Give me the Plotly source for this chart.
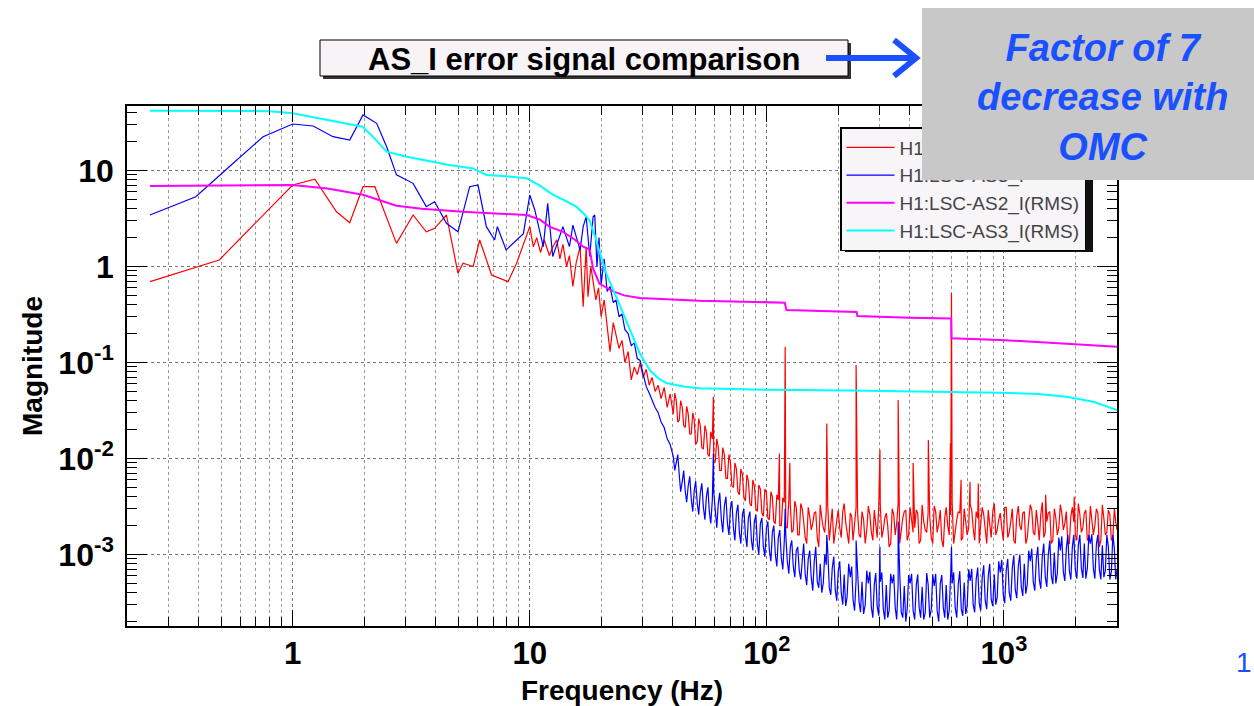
import plotly.graph_objects as go

# ---------------- data ----------------
# Low-frequency part of the two spectra (Hz, magnitude)
red_lf_f = [0.25, 0.49, 1.0, 1.24, 1.53, 1.74, 1.98, 2.22, 2.74, 3.22,
            3.66, 3.97, 4.45, 4.98, 5.23, 5.77, 6.15, 6.9, 8.1, 8.8,
            10.0, 10.35, 10.7, 11.1, 11.5, 12.1, 12.5, 13.0, 13.4, 13.8,
            14.3, 14.7, 15.2, 15.7, 16.3, 16.8, 17.3, 17.6, 18.1, 18.5,
            19.0, 19.5]
red_lf_m = [0.695, 1.17, 7.06, 8.1, 3.72, 2.86, 6.78, 6.78, 1.74, 3.44,
            2.3, 2.5, 3.44, 0.85, 1.08, 1.0, 1.89, 0.815, 0.695, 1.08,
            2.6, 1.6, 2.0, 1.4, 1.9, 1.3, 1.6, 1.9, 1.2, 1.7,
            1.0, 1.3, 0.62, 1.1, 1.61, 0.38, 1.61, 0.485, 1.0, 0.72,
            0.45, 0.6]

blue_lf_f = [0.25, 0.39, 0.54, 0.75, 1.0, 1.22, 1.48, 1.74, 1.98, 2.26,
             2.49, 2.74, 3.22, 3.66, 3.97, 4.45, 4.98, 5.58, 6.05, 6.56,
             7.11, 7.3, 7.95, 9.4, 10.0, 10.5, 11.4, 11.9, 12.5, 13.8,
             14.7, 15.2, 16.3, 16.8, 17.3, 17.9, 18.5, 18.8, 19.2, 19.6]
blue_lf_m = [3.44, 5.33, 10.96, 22.5, 30.5, 29.1, 22.5, 20.8, 37.9, 31,
             17.7, 9.0, 7.35, 4.2, 4.73, 2.82, 2.3, 6.78, 7.06, 2.6,
             1.89, 2.6, 1.49, 2.2, 5.56, 3.88, 1.61, 4.55, 1.27, 2.6,
             1.61, 2.7, 1.49, 2.6, 3.3, 1.27, 3.3, 3.44, 1.0, 2.0]

# High-frequency part, shared frequency list (Hz)
hf_f = [20, 20.6, 21.2, 21.8, 22.5, 23.1, 23.8, 24.5, 25.2, 26,
        26.8, 27.6, 28.4, 29.2, 30.1, 31, 31.9, 32.8, 33.8, 34.8,
        35.8, 36.9, 38, 39.1, 40.3, 41.5, 42.7, 44, 45.3, 46.6,
        48, 49.4, 50.9, 52.4, 54, 55.6, 57.2, 58.9, 60.6, 62.4,
        64.3, 66.2, 68.2, 70.2, 72.3, 74.4, 76.6, 78.9, 81.2, 83.6,
        86.1, 88.6, 91.2, 93.9, 96.7, 99.6, 102.5, 105.5, 108.6, 111.8,
        115.1, 118.5, 122, 125.6, 129.3, 133.1, 137, 141, 145.2, 149.5,
        153.9, 158.5, 163.2, 168, 173, 178.1, 183.4, 188.8, 194.4, 200,
        206, 212, 218, 225, 231, 238, 245, 252, 260, 268,
        276, 284, 292, 301, 310, 319, 328, 338, 348, 358,
        369, 380, 391, 402, 414, 427, 439, 452, 466, 479,
        494, 508, 523, 539, 555, 571, 588, 605, 623, 642,
        661, 680, 700, 721, 742, 764, 787, 810, 834, 859,
        884, 911, 937, 965, 994, 1023, 1053, 1085, 1117, 1150,
        1184, 1219, 1255, 1292, 1330, 1370, 1410, 1452, 1495, 1539,
        1585, 1632, 1680, 1730, 1781, 1834, 1888, 1944, 2001, 2061,
        2122, 2184, 2249, 2316, 2384, 2455, 2527, 2602, 2679, 2758,
        2840, 2924, 3000]

red_hf_m = [0.30, 0.45, 0.22, 0.13, 0.26, 0.20, 0.14, 0.17, 0.10, 0.13,
            0.066, 0.09, 0.075, 0.098, 0.07, 0.085, 0.058, 0.07, 0.05, 0.058,
            0.042, 0.055, 0.034, 0.047, 0.029, 0.04, 0.025, 0.034, 0.021, 0.029,
            0.018, 0.025, 0.015, 0.022, 0.0125, 0.019, 0.0105, 0.016, 0.0092, 0.013,
            0.0075, 0.011, 0.0062, 0.0092, 0.005, 0.0078, 0.0042, 0.0068, 0.0036, 0.0058,
            0.0032, 0.0052, 0.0028, 0.0048, 0.0025, 0.0044, 0.0023, 0.004, 0.0021, 0.0037,
            0.002, 0.0035, 0.0019, 0.0033, 0.0018, 0.0031, 0.0016, 0.003, 0.0015, 0.0031,
            0.0018, 0.0027, 0.0015, 0.0033, 0.0019, 0.0028, 0.0014, 0.003, 0.0017, 0.0029,
            0.0015, 0.0034, 0.0018, 0.0027, 0.0014, 0.0031, 0.0016, 0.0028, 0.0013, 0.0032,
            0.0017, 0.0029, 0.0015, 0.0033, 0.0018, 0.0027, 0.0012, 0.003, 0.0016, 0.0034,
            0.0018, 0.0028, 0.0014, 0.0031, 0.0017, 0.0029, 0.0013, 0.0033, 0.0018, 0.0027,
            0.0015, 0.0032, 0.0017, 0.0029, 0.0012, 0.0031, 0.0016, 0.0035, 0.0018, 0.0028,
            0.0014, 0.003, 0.0016, 0.0033, 0.0019, 0.0028, 0.0013, 0.0031, 0.0017, 0.0029,
            0.0015, 0.0034, 0.0018, 0.0027, 0.0014, 0.0031, 0.0017, 0.003, 0.0013, 0.0032,
            0.0018, 0.0028, 0.0015, 0.0033, 0.0017, 0.0029, 0.0014, 0.0035, 0.0017, 0.0027,
            0.0013, 0.003, 0.0016, 0.0033, 0.0018, 0.0028, 0.0013, 0.0031, 0.0016, 0.0034,
            0.0017, 0.0027, 0.0014, 0.0032, 0.0016, 0.003, 0.0012, 0.0033, 0.0016, 0.0029,
            0.0014, 0.003, 0.0018]

blue_hf_m = [0.65, 1.2, 0.55, 0.62, 0.42, 0.45, 0.3, 0.32, 0.22, 0.2,
             0.15, 0.16, 0.11, 0.105, 0.075, 0.056, 0.048, 0.04, 0.034, 0.03,
             0.024, 0.021, 0.016, 0.014, 0.0105, 0.009, 0.0068, 0.0058, 0.0045, 0.0052,
             0.0038, 0.0046, 0.0034, 0.0044, 0.0031, 0.004, 0.0028, 0.0037, 0.0026, 0.0034,
             0.0023, 0.0032, 0.0021, 0.003, 0.0019, 0.0027, 0.0017, 0.0026, 0.0016, 0.0024,
             0.0014, 0.0022, 0.0013, 0.0021, 0.0012, 0.0019, 0.0011, 0.0017, 0.001, 0.0015,
             0.00092, 0.0014, 0.00085, 0.0012, 0.00075, 0.0011, 0.00068, 0.00095, 0.00062, 0.0009,
             0.00058, 0.00085, 0.00052, 0.0008, 0.0005, 0.00078, 0.00045, 0.00072, 0.00043, 0.00066,
             0.0004, 0.00062, 0.00036, 0.00058, 0.00034, 0.00055, 0.00032, 0.00052, 0.0003, 0.0005,
             0.00028, 0.00049, 0.00029, 0.00052, 0.00027, 0.00048, 0.00026, 0.0005, 0.00028, 0.00049,
             0.00025, 0.00047, 0.00027, 0.0005, 0.00026, 0.00048, 0.00028, 0.00046, 0.00025, 0.00049,
             0.00027, 0.00047, 0.00026, 0.0005, 0.00028, 0.00048, 0.00026, 0.0005, 0.00028, 0.00049,
             0.00027, 0.00051, 0.00029, 0.00053, 0.0003, 0.00055, 0.00031, 0.00057, 0.00033, 0.0006,
             0.00034, 0.00062, 0.00036, 0.00065, 0.00038, 0.00068, 0.0004, 0.00072, 0.00043, 0.00076,
             0.00046, 0.0008, 0.00049, 0.00085, 0.00052, 0.0009, 0.00055, 0.00095, 0.00058, 0.001,
             0.0006, 0.00105, 0.00063, 0.0011, 0.00066, 0.00115, 0.00068, 0.0012, 0.0007, 0.00125,
             0.00072, 0.0013, 0.00072, 0.0013, 0.00072, 0.00128, 0.0007, 0.00125, 0.00068, 0.0012,
             0.00066, 0.00115, 0.0007]

# Extra in-between samples of the dense noise, 40-140 Hz
mid2_f = [40.9, 42.1, 43.3, 44.6, 45.9, 47.3, 48.7, 50.1, 51.6, 53.2,
          54.8, 56.4, 58, 59.7, 61.5, 63.3, 65.2, 67.2, 69.2, 71.2,
          73.3, 75.5, 77.7, 80, 82.4, 84.8, 87.3, 89.9, 92.5, 95.3,
          98.1, 101, 104, 107, 110.2, 113.4, 116.8, 120.2, 123.8, 127.4,
          131.2, 135, 139]
red_mid2_m = [0.048, 0.024, 0.04, 0.022, 0.035, 0.018, 0.03, 0.014, 0.026, 0.013,
              0.022, 0.011, 0.019, 0.009, 0.016, 0.0075, 0.013, 0.0062, 0.011, 0.0052,
              0.009, 0.0045, 0.0078, 0.004, 0.0068, 0.0034, 0.006, 0.003, 0.0053, 0.0027,
              0.0048, 0.0024, 0.0045, 0.0022, 0.0042, 0.002, 0.0039, 0.0019, 0.0037, 0.0017,
              0.0036, 0.0016, 0.0034]
blue_mid2_m = [0.0075, 0.011, 0.0045, 0.0075, 0.0035, 0.0065, 0.0028, 0.0058, 0.0026, 0.0055,
               0.0023, 0.005, 0.0021, 0.0045, 0.0019, 0.0044, 0.0017, 0.004, 0.0016, 0.0036,
               0.0014, 0.0033, 0.0013, 0.003, 0.0012, 0.0028, 0.0011, 0.0026, 0.001, 0.0024,
               0.00095, 0.0022, 0.00085, 0.002, 0.00075, 0.0018, 0.0007, 0.0016, 0.00063, 0.0014,
               0.00058, 0.0012, 0.00055]

# Extra in-between samples of the dense noise floor, 140-3000 Hz
mid_f = [143, 147.3, 151.7, 156.2, 160.8, 165.6, 170.5, 175.5, 180.7, 186.1,
         191.6, 197.2, 203, 209, 215, 221.5, 228, 234.5, 241.5, 248.5,
         256, 264, 272, 280, 288, 296.5, 305.5, 314.5, 323.5, 333,
         343, 353, 363.5, 374.5, 385.5, 396.5, 408, 420.5, 433, 445.5,
         459, 472.5, 486.5, 501, 515.5, 531, 547, 563, 579.5, 596.5,
         614, 632.5, 651.5, 670.5, 690, 710.5, 731.5, 753, 775.5, 798.5,
         822, 846.5, 871.5, 897.5, 924, 951, 979.5, 1008, 1038, 1069,
         1101, 1133, 1167, 1201, 1237, 1273, 1311, 1350, 1390, 1431,
         1473, 1517, 1562, 1608, 1656, 1705, 1755, 1807, 1861, 1916,
         1972, 2031, 2091, 2153, 2216, 2282, 2350, 2419, 2491, 2564,
         2640, 2718, 2799, 2882, 2962]
red_mid_m = [0.0022, 0.0013, 0.0025, 0.0021, 0.0028, 0.0012, 0.0024, 0.0017, 0.0032, 0.0021,
             0.0013, 0.0024, 0.0019, 0.0028, 0.0022, 0.0013, 0.0025, 0.002, 0.0027, 0.0015,
             0.0023, 0.0018, 0.0026, 0.0014, 0.0022, 0.0031, 0.0015, 0.0024, 0.002, 0.0013,
             0.0026, 0.0021, 0.0013, 0.0024, 0.0029, 0.0016, 0.0023, 0.0019, 0.0027, 0.0014,
             0.0022, 0.0017, 0.0025, 0.0013, 0.0028, 0.0021, 0.0014, 0.0024, 0.002, 0.0026,
             0.0013, 0.0023, 0.0027, 0.0015, 0.0022, 0.0019, 0.0029, 0.0014, 0.0024, 0.0021,
             0.0026, 0.0013, 0.0022, 0.0028, 0.0016, 0.0023, 0.0019, 0.0031, 0.0015, 0.0022,
             0.0014, 0.0025, 0.002, 0.0027, 0.0013, 0.0023, 0.0029, 0.0016, 0.0021, 0.0026,
             0.0015, 0.0022, 0.0028, 0.0014, 0.0024, 0.0019, 0.0027, 0.0021, 0.0013, 0.0025,
             0.0022, 0.0014, 0.0026, 0.0019, 0.0029, 0.0015, 0.0023, 0.002, 0.0027, 0.0014,
             0.0024, 0.0017, 0.0026, 0.0015, 0.0022]
blue_mid_m = [0.0013, 0.00048, 0.0011, 0.00042, 0.0012, 0.00045, 0.0004, 0.001, 0.0011, 0.00038,
              0.00095, 0.00033, 0.00085, 0.0003, 0.00029, 0.0008, 0.00075, 0.00026, 0.0007, 0.00025,
              0.00024, 0.00068, 0.00066, 0.00022, 0.00064, 0.00023, 0.00065, 0.00021, 0.00022, 0.00063,
              0.00062, 0.00021, 0.00064, 0.00022, 0.0002, 0.00061, 0.00063, 0.00021, 0.00062, 0.00022,
              0.00021, 0.00064, 0.00022, 0.00062, 0.00063, 0.0002, 0.00061, 0.00022, 0.00021, 0.00064,
              0.00065, 0.00022, 0.00067, 0.00023, 0.00024, 0.0007, 0.00071, 0.00025, 0.00073, 0.00026,
              0.00077, 0.00027, 0.0008, 0.00029, 0.0003, 0.00085, 0.00088, 0.00031, 0.0009, 0.00033,
              0.00098, 0.00035, 0.001, 0.00037, 0.00039, 0.0011, 0.00115, 0.00042, 0.0012, 0.00044,
              0.0013, 0.00046, 0.0014, 0.00049, 0.0005, 0.0015, 0.00155, 0.00053, 0.0016, 0.00055,
              0.0016, 0.00056, 0.0016, 0.00057, 0.00056, 0.0016, 0.00162, 0.00056, 0.0016, 0.00055,
              0.00058, 0.0016, 0.00055, 0.0016, 0.00055]

# Line spikes (60 Hz harmonics etc.)
red_spike_f = [59.5, 113, 119.5, 125, 179, 238, 300, 358, 414, 480, 595, 601, 660, 720, 780, 1500, 1980]
red_spike_m = [0.044, 0.0113, 0.146, 0.009, 0.0232, 0.094, 0.0123, 0.0407, 0.009, 0.0156, 0.0144, 0.53,
               0.006, 0.0057, 0.0055, 0.0042, 0.004]
blue_spike_f = [59.5, 119.5, 179, 238, 300, 358, 601]
blue_spike_m = [0.0113, 0.003, 0.0016, 0.0014, 0.0012, 0.0022, 0.0012]

# RMS curves
mag_f = [0.25, 0.5, 1.0, 1.4, 1.98, 2.74, 3.5, 5.23, 7.0, 9.7,
         11.0, 12.1, 13.8, 15.5, 16.8, 17.9, 18.5, 19.7, 22.5, 25.0,
         29.1, 40, 52, 80, 119, 121, 180, 239, 241, 400,
         599, 601, 962, 1838, 3000]
mag_m = [6.9, 7.0, 7.05, 6.5, 5.6, 4.3, 4.0, 3.72, 3.6, 3.44,
         3.1, 2.6, 2.3, 1.9, 1.61, 1.5, 0.95, 0.66, 0.55, 0.5,
         0.47, 0.45, 0.44, 0.43, 0.42, 0.352, 0.345, 0.335, 0.305, 0.292,
         0.288, 0.179, 0.172, 0.158, 0.146]

cyan_f = [0.25, 0.5, 0.8, 1.0, 1.43, 1.97, 2.2, 2.49, 3.0, 3.79,
          4.5, 5.77, 6.56, 8.0, 9.7, 11.0, 12.5, 14.0, 15.7, 17.0,
          17.9, 18.8, 19.7, 21.0, 23.2, 26.0, 29.1, 32.1, 35.0, 37.7,
          45.0, 52.0, 100, 224, 500, 962, 1400, 1838, 2382, 3000]
cyan_m = [42, 42, 41.5, 39.5, 33.6, 28.6, 22, 15.7, 14, 12.4,
          11.5, 10.5, 9.0, 8.7, 8.3, 7.0, 5.6, 4.9, 4.2, 3.5,
          3.0, 2.1, 1.4, 0.85, 0.48, 0.24, 0.125, 0.083, 0.068, 0.061,
          0.056, 0.054, 0.052, 0.051, 0.05, 0.0485, 0.047, 0.044, 0.039, 0.032]

names = ["H1:LSC-AS2_I", "H1:LSC-AS3_I", "H1:LSC-AS2_I(RMS)", "H1:LSC-AS3_I(RMS)"]

y_tickvals = [1e-3, 1e-2, 1e-1, 1, 10]
y_ticktext = ["<b>10<sup>-3</sup></b>", "<b>10<sup>-2</sup></b>", "<b>10<sup>-1</sup></b>",
              "<b>1</b>", "<b>10</b>"]


def merge(*pairs):
    pts = []
    for f, m in pairs:
        pts.extend(zip(f, m))
    pts.sort(key=lambda p: p[0])
    return [p[0] for p in pts], [p[1] for p in pts]


red_f, red_m = merge((red_lf_f, red_lf_m), (hf_f, red_hf_m), (mid2_f, red_mid2_m),
                     (mid_f, red_mid_m), (red_spike_f, red_spike_m))
blue_f, blue_m = merge((blue_lf_f, blue_lf_m), (hf_f, blue_hf_m), (mid2_f, blue_mid2_m),
                       (mid_f, blue_mid_m), (blue_spike_f, blue_spike_m))

# ---------------- layout geometry (pixels) ----------------
W, H = 1254, 706
PL, PR, PT, PB = 127, 1117, 106, 626


def px(x):
    return (x - PL) / (PR - PL)


def py(y):
    return (PB - y) / (PB - PT)


FONT = "Liberation Sans, Arial, Helvetica, sans-serif"
BLUE_TXT = "#1a50ff"

# minor tick positions on the y axis (2..9 x each decade)
y_minor = [d * 10.0 ** e for e in range(-4, 2) for d in range(2, 10)]

fig = go.Figure()
fig.add_trace(go.Scatter(x=red_f, y=red_m, mode="lines", name=names[0],
                         line=dict(color="#ff0000", width=1.2), legendgroup="a"))
fig.add_trace(go.Scatter(x=blue_f, y=blue_m, mode="lines", name=names[1],
                         line=dict(color="#0000ff", width=1.2), legendgroup="b"))
fig.add_trace(go.Scatter(x=mag_f, y=mag_m, mode="lines", name=names[2],
                         line=dict(color="#ff00ff", width=2), legendgroup="c"))
fig.add_trace(go.Scatter(x=cyan_f, y=cyan_m, mode="lines", name=names[3],
                         line=dict(color="#00ffff", width=2), legendgroup="d"))

axis_common = dict(
    type="log", showline=True, linecolor="black", linewidth=1.5, mirror="allticks",
    ticks="inside", tickcolor="black", tickwidth=1,
    zeroline=False, automargin=False,
)

fig.update_xaxes(
    **axis_common,
    dtick=1, exponentformat="power",
    tickfont=dict(family=FONT, size=25, color="black", weight="bold"),
    range=[-0.69897, 3.4771], ticklen=16,
    showgrid=True, gridcolor="#777777", griddash="dot", gridwidth=1,
    minor=dict(ticks="inside", ticklen=9, tickcolor="black", dtick="D1",
               showgrid=True, gridcolor="#9a9a9a", griddash="dot", gridwidth=1),
    ticklabelstandoff=0,
    title=dict(text="<b>Frequency (Hz)</b>", font=dict(family=FONT, size=28, color="black"), standoff=22),
)
fig.update_yaxes(
    **axis_common,
    tickmode="array", tickvals=y_tickvals, ticktext=y_ticktext,
    tickfont=dict(family=FONT, size=32, color="black"),
    range=[-3.745, 1.672], ticklen=20,
    showgrid=True, gridcolor="#777777", griddash="dot", gridwidth=1,
    minor=dict(ticks="inside", ticklen=10, tickcolor="black", tickmode="array",
               tickvals=y_minor, showgrid=False),
    ticklabelstandoff=5,
    title=dict(text="<b>Magnitude</b>", font=dict(family=FONT, size=28, color="black"), standoff=8),
)

shapes = [
    # title box shadow + box
    dict(type="rect", xref="paper", yref="paper", x0=px(323), x1=px(851), y0=py(79), y1=py(43),
         fillcolor="#333333", line=dict(width=0), layer="above"),
    dict(type="rect", xref="paper", yref="paper", x0=px(320), x1=px(848), y0=py(76), y1=py(40),
         fillcolor="#f7f3f7", line=dict(color="black", width=1), layer="above"),
    # legend shadow
    dict(type="rect", xref="paper", yref="paper", x0=px(845), x1=px(1093), y0=py(252), y1=py(132),
         fillcolor="#111111", line=dict(width=0), layer="above"),
    # arrow
    dict(type="path", xref="paper", yref="paper",
         path=f"M{px(826)},{py(58)} L{px(913)},{py(58)}",
         line=dict(color=BLUE_TXT, width=6), layer="above"),
    dict(type="path", xref="paper", yref="paper",
         path=f"M{px(894)},{py(40)} L{px(916)},{py(58)} L{px(894)},{py(76)}",
         line=dict(color=BLUE_TXT, width=6), layer="above"),
]

annotations = [
    dict(xref="paper", yref="paper", x=px(584), y=py(59), text="<b>AS_I error signal comparison</b>",
         showarrow=False, xanchor="center", yanchor="middle",
         font=dict(family=FONT, size=31, color="black")),
    dict(xref="paper", yref="paper", x=px(1088), y=py(94), text="&nbsp;", showarrow=False,
         xanchor="center", yanchor="middle", width=332, height=172, bgcolor="#c8c8c8",
         borderpad=0, borderwidth=0),
    dict(xref="paper", yref="paper", x=px(1102), y=py(97),
         text="<b><i>Factor of 7<br>decrease with<br>OMC</i></b>", showarrow=False,
         xanchor="center", yanchor="middle", align="center",
         font=dict(family=FONT, size=38, color=BLUE_TXT)),
    dict(xref="paper", yref="paper", x=px(1254), y=py(662), text="1", showarrow=False,
         xanchor="right", yanchor="middle", font=dict(family=FONT, size=28, color=BLUE_TXT)),
]

fig.update_layout(
    width=W, height=H,
    margin=dict(l=PL, r=W - PR, t=PT, b=H - PB, autoexpand=False),
    paper_bgcolor="white", plot_bgcolor="white",
    showlegend=True,
    legend=dict(x=px(840), y=py(127), xanchor="left", yanchor="top",
                bgcolor="#f8f5f8", bordercolor="black", borderwidth=1.5,
                font=dict(family=FONT, size=19, color="#444444"),
                itemwidth=48, traceorder="normal"),
    shapes=shapes, annotations=annotations,
)

fig.write_html("out.html")
